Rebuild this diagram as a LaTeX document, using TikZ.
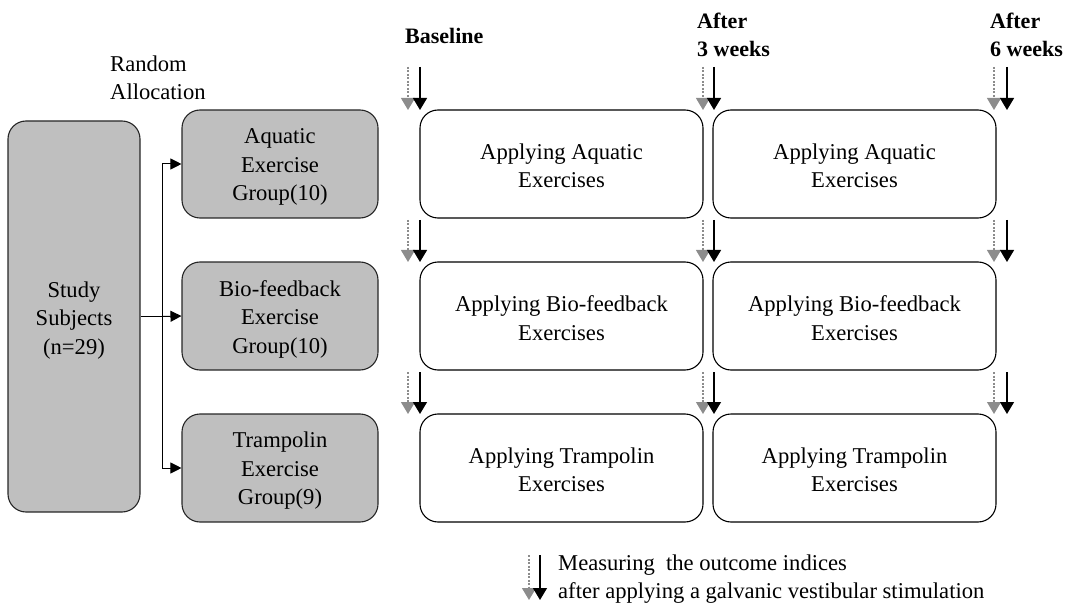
\documentclass[tikz,border=0pt]{standalone}
\usepackage{fontspec}
\setmainfont{Liberation Serif}
\usetikzlibrary{arrows.meta}
\begin{document}
\begin{tikzpicture}[x=1pt,y=-1pt,
  txt/.style={font=\fontsize{22.6}{28.5}\selectfont, align=center},
  graybox/.style={draw=black!85, line width=1.1pt, fill=black!25, rounded corners=18pt, inner sep=0pt},
  whitebox/.style={draw=black, line width=1.1pt, fill=white, rounded corners=18pt, inner sep=0pt, minimum width=283pt, minimum height=108pt},
  grp/.style={graybox, minimum width=196pt, minimum height=108pt},
  intext/.style 2 args={label={[txt, inner sep=0pt, yshift=-#1]center:#2}},
  head/.style={font=\fontsize{22}{28}\selectfont\bfseries, align=left, anchor=west, inner sep=0pt},
  conn/.style={line width=1pt, -{Triangle[width=11pt,length=11pt]}},
  mgray/.style={draw=black!45, line width=1.2pt, dash pattern=on 2pt off 1.5pt, -{Triangle[width=14pt,length=12pt,fill=black!45]}},
  mblack/.style={draw=black, line width=1.2pt, -{Triangle[width=14pt,length=12pt]}}
]
\useasboundingbox (0,0) rectangle (1071,604);

% study subjects
\node[graybox, minimum width=132pt, minimum height=391pt, intext={4pt}{Study\\Subjects\\(n=29)}] (study) at (74,316.5) {};

\node[txt, anchor=west, align=left, inner sep=0pt] (ra) at (110,78) {Random\\Allocation};

% groups
\node[grp, intext={3pt}{Aquatic\\Exercise\\Group(10)}] (aq) at (280,164) {};
\node[grp, intext={3pt}{Bio-feedback\\Exercise\\Group(10)}] (bio) at (280,316) {};
\node[grp, intext={3pt}{Trampolin\\Exercise\\Group(9)}] (tr) at (280,468) {};

% connectors
\coordinate (j) at (162,316.5);
\draw[line width=1pt] (study.east) -- (j);
\draw[line width=1pt] (j |- aq.west) -- (j |- tr.west);
\draw[conn] (j |- aq.west) -- (aq.west);
\draw[conn] (j) -- (bio.west);
\draw[conn] (j |- tr.west) -- (tr.west);

% exercise boxes
\node[whitebox, intext={2pt}{Applying Aquatic\\Exercises}] (a1) at (561.5,164) {};
\node[whitebox, intext={2pt}{Applying Aquatic\\Exercises}] (a2) at (854.5,164) {};
\node[whitebox, intext={2pt}{Applying Bio-feedback\\Exercises}] (b1) at (561.5,316) {};
\node[whitebox, intext={2pt}{Applying Bio-feedback\\Exercises}] (b2) at (854.5,316) {};
\node[whitebox, intext={2pt}{Applying Trampolin\\Exercises}] (c1) at (561.5,468) {};
\node[whitebox, intext={2pt}{Applying Trampolin\\Exercises}] (c2) at (854.5,468) {};

% headings
\node[head] (h1) at (405,36) {Baseline};
\node[head] (h2) at (697,35) {After\\3 weeks};
\node[head] (h3) at (990,35) {After\\6 weeks};

% measurement arrows
\foreach \g/\b [count=\c] in {408/420, 703/714, 994/1007}{
  \foreach \ys/\ye [count=\r] in {67/110, 220/262, 372/414}{
    \coordinate (gs\c\r) at (\g,\ys); \coordinate (ge\c\r) at (\g,\ye);
    \coordinate (bs\c\r) at (\b,\ys); \coordinate (be\c\r) at (\b,\ye);
    \draw[mgray] (gs\c\r) -- (ge\c\r);
    \draw[mblack] (bs\c\r) -- (be\c\r);
  }
}

% legend
\coordinate (lgs) at (529,555); \coordinate (lge) at (529,600);
\coordinate (lbs) at (540,555); \coordinate (lbe) at (540,600);
\draw[mgray] (lgs) -- (lge);
\draw[mblack] (lbs) -- (lbe);
\node[txt, anchor=west, inner sep=0pt] (leg1) at (558,565) {Measuring\ \ the outcome indices};
\node[txt, anchor=west, inner sep=0pt] (leg2) at (558,593) {after applying a galvanic vestibular stimulation};
\end{tikzpicture}
\end{document}
